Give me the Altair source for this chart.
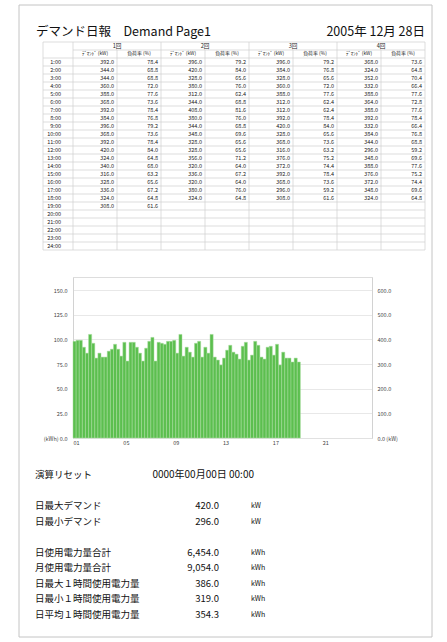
import altair as alt
import pandas as pd

# ---------------- report data ----------------
page_title = "デマンド日報　Demand Page1"
report_date = "2005年 12月 28日"

row_labels = [f"{h}:00" for h in range(1, 25)]
group_labels = ["1回", "2回", "3回", "4回"]
sub_labels = ["ﾃﾞﾏﾝﾄﾞ (kW)", "負荷率 (%)"]

# 15-minute demand (kW) and load factor (%) per hour, one list per interval
demand_1 = [392, 344, 344, 360, 388, 368, 392, 384, 396, 368, 392, 420, 324, 340, 316, 328, 336, 324, 308]
load_1 = [78.4, 68.8, 68.8, 72.0, 77.6, 73.6, 78.4, 76.8, 79.2, 73.6, 78.4, 84.0, 64.8, 68.0, 63.2, 65.6, 67.2, 64.8, 61.6]
demand_2 = [396, 420, 328, 380, 312, 344, 408, 380, 344, 348, 328, 328, 356, 320, 336, 320, 380, 324]
load_2 = [79.2, 84.0, 65.6, 76.0, 62.4, 68.8, 81.6, 76.0, 68.8, 69.6, 65.6, 65.6, 71.2, 64.0, 67.2, 64.0, 76.0, 64.8]
demand_3 = [396, 384, 328, 360, 388, 312, 312, 392, 420, 328, 368, 316, 376, 372, 392, 368, 296, 308]
load_3 = [79.2, 76.8, 65.6, 72.0, 77.6, 62.4, 62.4, 78.4, 84.0, 65.6, 73.6, 63.2, 75.2, 74.4, 78.4, 73.6, 59.2, 61.6]
demand_4 = [368, 324, 352, 332, 388, 364, 388, 392, 332, 384, 344, 296, 348, 388, 376, 372, 348, 324]
load_4 = [73.6, 64.8, 70.4, 66.4, 77.6, 72.8, 77.6, 78.4, 66.4, 76.8, 68.8, 59.2, 69.6, 77.6, 75.2, 74.4, 69.6, 64.8]

demands = [demand_1, demand_2, demand_3, demand_4]
loads = [load_1, load_2, load_3, load_4]

hour_ticks = [0, 4, 8, 12, 16, 20]
kwh_ticks = [0, 25, 50, 75, 100, 125, 150]
kw_ticks = [0, 100, 200, 300, 400, 500, 600]

summary_groups = [
    [("演算リセット", "0000年00月00日 00:00", "")],
    [("日最大デマンド", "420.0", "kW"),
     ("日最小デマンド", "296.0", "kW")],
    [("日使用電力量合計", "6,454.0", "kWh"),
     ("月使用電力量合計", "9,054.0", "kWh"),
     ("日最大１時間使用電力量", "386.0", "kWh"),
     ("日最小１時間使用電力量", "319.0", "kWh"),
     ("日平均１時間使用電力量", "354.3", "kWh")],
]

# ---------------- layout constants ----------------
FONT = "Noto Sans CJK JP"
PLOT_W, PLOT_H = 299, 161
PAD = {"left": 73, "top": 277, "right": 75, "bottom": 204}
KW_TOP = 600 * PLOT_H / 148
KWH_TOP = KW_TOP / 4
GREEN = "#5cbf4f"
GRID = "#e2e2e2"
LINE = "#cfcfcf"
INK = "#222222"

# ---------------- table frames ----------------
N_ROWS = 2 + len(row_labels)
LEFT_EDGE = -30 / 44

cells, heads, subs, rows = [], [], [], []
for g, (dem, ld) in enumerate(zip(demands, loads)):
    heads.append({"c": 2 * g + 1, "r": 0.5, "text": group_labels[g]})
    for s, lab in enumerate(sub_labels):
        subs.append({"c": 2 * g + s + 0.5, "r": 1.5, "text": lab})
    for i, v in enumerate(dem):
        cells.append({"c": 2 * g + 1, "r": 2.5 + i, "text": f"{v:.1f}"})
    for i, v in enumerate(ld):
        cells.append({"c": 2 * g + 2, "r": 2.5 + i, "text": f"{v:.1f}"})
for i, lab in enumerate(row_labels):
    rows.append({"c": 0, "r": 2.5 + i, "text": lab})

hlines = [{"c": LEFT_EDGE if r != 1 else 0, "c2": 8, "r": r} for r in range(N_ROWS + 1)]
vlines = [{"c": LEFT_EDGE, "r": 0, "r2": N_ROWS}]
for c in range(9):
    vlines.append({"c": c, "r": 0 if c % 2 == 0 else 1, "r2": N_ROWS})

tx = alt.Scale(domain=[0, 8], range=[0, 352], nice=False, zero=False)
ty = alt.Scale(domain=[0, N_ROWS], range=[42 - PAD["top"], 250 - PAD["top"]], nice=False, zero=False)


def table_text(records, size, align, dx=0):
    return alt.Chart(pd.DataFrame(records)).mark_text(
        fontSize=size, align=align, baseline="middle", dx=dx, color=INK, font=FONT
    ).encode(
        x=alt.X("c:Q", scale=tx, axis=None),
        y=alt.Y("r:Q", scale=ty, axis=None),
        text="text:N",
    )


table_h = alt.Chart(pd.DataFrame(hlines)).mark_rule(color=LINE, strokeWidth=0.7).encode(
    x=alt.X("c:Q", scale=tx, axis=None), x2="c2:Q",
    y=alt.Y("r:Q", scale=ty, axis=None),
)
table_v = alt.Chart(pd.DataFrame(vlines)).mark_rule(color=LINE, strokeWidth=0.7).encode(
    x=alt.X("c:Q", scale=tx, axis=None),
    y=alt.Y("r:Q", scale=ty, axis=None), y2="r2:Q",
)
table_heads = table_text(heads, 5.6, "center")
table_subs = table_text(subs, 4.9, "center")
table_cells = table_text(cells, 5.5, "right", dx=-3)
table_rows = table_text(rows, 5.5, "right", dx=-12)

# ---------------- bar chart ----------------
bar_records = []
for h in range(len(demand_1)):
    for q, dem in enumerate(demands):
        if h < len(dem):
            t = h + q / 4
            bar_records.append({"t": t, "t2": t + 0.25, "kw": dem[h], "kwh": dem[h] / 4})
bar_df = pd.DataFrame(bar_records)

hx = alt.Scale(domain=[0, 24], nice=False, zero=False)

left_axis = alt.Chart(bar_df).mark_bar(opacity=0).encode(
    x=alt.X("t:Q", scale=hx, axis=None),
    x2="t2:Q",
    y=alt.Y(
        "kwh:Q",
        scale=alt.Scale(domain=[0, KWH_TOP], nice=False),
        axis=alt.Axis(
            orient="left", values=kwh_ticks, title=None, ticks=False,
            labelExpr="datum.value == 0 ? '(kWh)   0.0' : format(datum.value, '.1f')",
            grid=True, gridColor=GRID, gridWidth=0.8,
            domainColor=LINE, domainWidth=0.8,
            labelFontSize=5.5, labelPadding=6, labelColor="#444", labelFont=FONT,
        ),
    ),
    y2=alt.datum(0),
)

bars = alt.Chart(bar_df).mark_bar(color=GREEN, stroke="#a8dd9f", strokeWidth=0.5).encode(
    x=alt.X(
        "t:Q", scale=hx,
        axis=alt.Axis(
            values=hour_ticks, title=None, ticks=False, domain=False, grid=False,
            labelExpr="(datum.value + 1 < 10 ? '0' : '') + (datum.value + 1)",
            labelAlign="left", labelFontSize=5.5, labelPadding=2,
            labelColor="#444", labelFont=FONT,
        ),
    ),
    x2="t2:Q",
    y=alt.Y(
        "kw:Q",
        scale=alt.Scale(domain=[0, KW_TOP], nice=False),
        axis=alt.Axis(
            orient="right", values=kw_ticks, title=None, ticks=False, grid=False,
            labelExpr="datum.value == 0 ? '0.0   (kW)' : format(datum.value, '.1f')",
            domainColor=LINE, domainWidth=0.8,
            labelFontSize=5.5, labelPadding=5, labelColor="#444", labelFont=FONT,
        ),
    ),
    y2=alt.datum(0),
)

# ---------------- header line ----------------
one = pd.DataFrame({"a": [0]})
title_text = alt.Chart(one).mark_text(
    text=page_title, fontSize=12.5, align="left", baseline="middle", color="#111", font=FONT
).encode(x=alt.value(-37), y=alt.value(32 - PAD["top"]))
date_text = alt.Chart(one).mark_text(
    text=report_date, fontSize=12.5, align="right", baseline="middle", color="#111", font=FONT
).encode(x=alt.value(352), y=alt.value(32 - PAD["top"]))

page_frame = alt.Chart(one).mark_rect(filled=False, stroke="#c4c4c4", strokeWidth=1).encode(
    x=alt.value(19 - PAD["left"]), x2=alt.value(432 - PAD["left"]),
    y=alt.value(5 - PAD["top"]), y2=alt.value(637 - PAD["top"]),
)

# ---------------- summary block ----------------
summary = []
row = 0
for group in summary_groups:
    for label, value, unit in group:
        summary.append({"row": row, "label": label, "value": value, "unit": unit})
        row += 1
    row += 1
summary_df = pd.DataFrame(summary)

sx = alt.Scale(domain=[0, 1], range=[35 - PAD["left"], 219 - PAD["left"]], nice=False, zero=False)
sy = alt.Scale(domain=[0, 9], range=[475 - PAD["top"], 614.5 - PAD["top"]], nice=False, zero=False)

sum_labels = alt.Chart(summary_df).mark_text(
    fontSize=9.5, align="left", baseline="middle", color="#111", font=FONT
).encode(x=alt.X("pos:Q", scale=sx, axis=None), y=alt.Y("row:Q", scale=sy, axis=None),
         text="label:N").transform_calculate(pos="0")
sum_values = alt.Chart(summary_df).transform_filter("datum.unit != ''").mark_text(
    fontSize=9.5, align="right", baseline="middle", color="#111", font=FONT
).encode(x=alt.X("pos:Q", scale=sx, axis=None), y=alt.Y("row:Q", scale=sy, axis=None),
         text="value:N").transform_calculate(pos="1")
sum_reset = alt.Chart(summary_df).transform_filter("datum.unit == ''").mark_text(
    fontSize=10, align="right", baseline="middle", dx=35, color="#111", font=FONT
).encode(x=alt.X("pos:Q", scale=sx, axis=None), y=alt.Y("row:Q", scale=sy, axis=None),
         text="value:N").transform_calculate(pos="1")
sum_units = alt.Chart(summary_df).transform_filter("datum.unit != ''").mark_text(
    fontSize=7, align="left", baseline="middle", dx=32, color="#111", font=FONT
).encode(x=alt.X("pos:Q", scale=sx, axis=None), y=alt.Y("row:Q", scale=sy, axis=None),
         text="unit:N").transform_calculate(pos="1")

chart = alt.layer(
    page_frame, title_text, date_text,
    table_h, table_v, table_heads, table_subs, table_cells, table_rows,
    left_axis, bars,
    sum_labels, sum_values, sum_reset, sum_units,
).resolve_scale(
    x="independent", y="independent"
).properties(
    width=PLOT_W, height=PLOT_H,
    autosize=alt.AutoSizeParams(type="none"),
    padding=PAD,
    background="white",
).configure_view(stroke=None).configure(font=FONT)

chart.save("out.html", embed_options={"renderer": "svg", "actions": False})
